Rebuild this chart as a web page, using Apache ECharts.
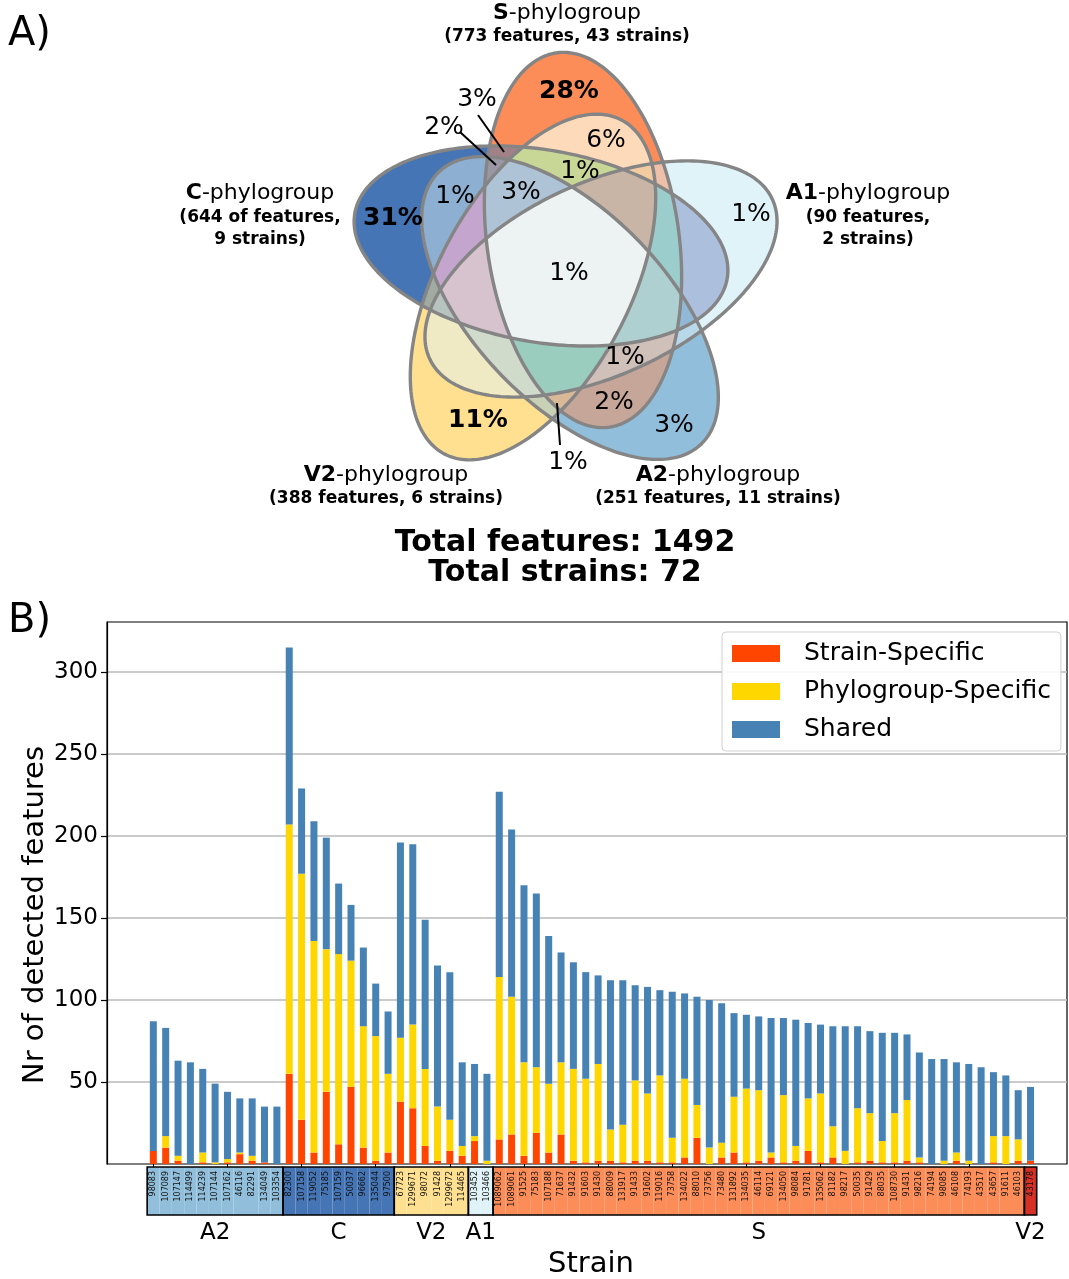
<!DOCTYPE html>
<html><head><meta charset="utf-8">
<script src="https://cdn.jsdelivr.net/npm/echarts@6/dist/echarts.min.js"></script>
<style>html,body{margin:0;padding:0;background:#fff}#c{width:1069px;height:1279px}</style>
</head><body><div id="c"></div>
<script>
// ---------------- DATA ----------------
const strains = ['98083','107089','107147','114499','114239','107144','107162','46116','82291','134049','103354',
 '82300','107158','119052','75185','107159','50037','96662','135044','97500',
 '67723','1299671','98072','91428','1299672','114465',
 '103452','103466',
 '1089062','1089061','91525','75183','107188','71637','91432','91603','91430','88009','131917','91433','91602','119016','73758','134022','88010','73756','73480','131892','134035','46114','69121','134050','98084','91781','135062','81182','98217','50035','91429','88035','108730','91431','98216','74194','98085','46108','74193','43517','43657','91611','46103',
 '43178'];
const groupNames = ['A2','C','V2','A1','S','V2'];
const groupSizes = [11,9,6,2,43,1];
const strainSpecific = [8,10,2,0,1,0,1,6,2,1,0,
 55,27,7,44,12,47,10,2,7,
 38,34,11,2,8,5,
 14,0,
 15,18,5,19,7,18,2,1,2,2,1,2,2,1,1,4,16,0,4,7,1,2,4,1,2,8,1,4,0,1,2,1,1,2,1,0,0,2,0,0,1,0,2,
 2];
const phylogroupSpecific = [0,7,3,0,6,1,2,1,3,0,0,
 152,150,129,87,116,77,74,76,48,
 39,51,47,33,19,6,
 3,2,
 99,84,57,40,42,44,56,51,59,19,23,49,41,53,15,48,20,10,9,34,45,43,3,41,9,32,42,19,8,33,29,13,30,37,3,0,2,5,2,0,16,17,13,
 0];
const shared = [79,66,58,62,51,48,41,33,35,34,35,
 108,52,73,68,43,34,48,32,38,
 119,110,91,86,90,51,
 44,53,
 113,102,108,106,90,67,65,65,54,91,88,58,65,52,89,52,66,90,85,51,45,45,82,47,77,46,42,61,76,50,50,66,49,40,64,64,62,55,59,59,39,37,30,
 45];
const seriesNames = ['Strain-Specific','Phylogroup-Specific','Shared'];
const yTicks = [50,100,150,200,250,300];

const vennSets = ['C','S','A1','A2','V2'];
const vennFeatures = [644,773,90,251,388];
const vennStrains = [9,43,2,11,6];
const vennPercents = ['31%','28%','1%','3%','11%','6%','1%','3%','1%','1%','1%','2%','1%','3%','2%'];
const totalFeatures = 1492;
const totalStrains = 72;

// ---------------- STYLE / LAYOUT ----------------
const FONT = 'DejaVu Sans';
const barColors = ['#FF4500','#FFD700','#4682B4'];
const groupColors = ['#91bfdb','#4575b4','#fee090','#e0f3f8','#fc8d59','#d73027'];
const setColors = {C:'#4575b4', S:'#fc8d59', A1:'#e0f3f8', A2:'#91bfdb', V2:'#fee090'};
const ellipseLayout = {
  C:{cx:541,cy:246,ang:170}, S:{cx:583,cy:240,ang:98}, A1:{cx:601,cy:279,ang:25},
  A2:{cx:570,cy:308,ang:134}, V2:{cx:533,cy:287,ang:62}
};
const EA = 189, EB = 96;
// percent label positions (same order as vennPercents)
const pctPos = [[393,218,1],[569,91,1],[751,214,0],[674,425,0],[478,420,1],[606,140,0],[580,171,0],[521,192,0],[455,196,0],[569,273,0],[625,357,0],[614,402,0],[568,462,0],[477,99,0],[444,127,0]];
const regionOverride = {18:[253,218,185],9:[140,175,210],19:[200,215,150],27:[175,195,215],31:[237,243,243],
  25:[195,165,205],29:[215,195,205],30:[155,205,190],7:[155,205,205],15:[175,208,208],5:[172,192,222]};

// ---------------- VENN GEOMETRY ----------------
function hexRgb(h){return [parseInt(h.substr(1,2),16),parseInt(h.substr(3,2),16),parseInt(h.substr(5,2),16)];}
function ellPoly(e,n){
  const th=e.ang*Math.PI/180, ux=Math.cos(th), uy=-Math.sin(th), nx=Math.sin(th), ny=Math.cos(th);
  const pts=[];
  for(let k=0;k<n;k++){const t=2*Math.PI*k/n; const ca=Math.cos(t)*EA, sb=Math.sin(t)*EB;
    pts.push([e.cx+ca*ux+sb*nx, e.cy+ca*uy+sb*ny]);}
  return pts;
}
function area(p){let s=0;for(let i=0;i<p.length;i++){const a=p[i],b=p[(i+1)%p.length];s+=a[0]*b[1]-b[0]*a[1];}return s/2;}
function clip(subject, cp){
  const sg = area(cp)>0?1:-1;
  let out = subject;
  for(let i=0;i<cp.length;i++){
    if(!out.length) break;
    const a=cp[i], b=cp[(i+1)%cp.length];
    const inp=out; out=[];
    const inside=p=>sg*((b[0]-a[0])*(p[1]-a[1])-(b[1]-a[1])*(p[0]-a[0]))>=0;
    const inter=(p,q)=>{const A1=q[1]-p[1],B1=p[0]-q[0],C1=A1*p[0]+B1*p[1];
      const A2=b[1]-a[1],B2=a[0]-b[0],C2=A2*a[0]+B2*a[1];const d=A1*B2-A2*B1;
      return [(B2*C1-B1*C2)/d,(A1*C2-A2*C1)/d];};
    for(let j=0;j<inp.length;j++){const P=inp[j],Q=inp[(j+1)%inp.length];const pi=inside(P),qi=inside(Q);
      if(qi){if(!pi)out.push(inter(P,Q));out.push(Q);}else if(pi)out.push(inter(P,Q));}
  }
  return out;
}
const polys = vennSets.map(s=>ellPoly(ellipseLayout[s],240));
const graphics = [];
const masks=[];for(let m=1;m<32;m++)masks.push(m);
const pc=m=>{let c=0;while(m){c+=m&1;m>>=1;}return c;};
masks.sort((a,b)=>pc(a)-pc(b));
let zc=1;
masks.forEach(m=>{
  const mem=[];for(let i=0;i<5;i++)if(m&(1<<i))mem.push(i);
  let p=polys[mem[0]];
  for(let k=1;k<mem.length;k++)p=clip(p,polys[mem[k]]);
  if(p.length<3)return;
  let col;
  if(regionOverride[m])col=regionOverride[m];
  else{col=[0,0,0];mem.forEach(i=>{const c=hexRgb(setColors[vennSets[i]]);col[0]+=c[0];col[1]+=c[1];col[2]+=c[2];});
    col=col.map(v=>Math.round(v/mem.length));}
  graphics.push({type:'polygon',silent:true,z:zc++,shape:{points:p},style:{fill:'rgb('+col.join(',')+')',stroke:'rgb('+col.join(',')+')',lineWidth:0.5}});
});
polys.forEach(p=>graphics.push({type:'polygon',silent:true,z:100,shape:{points:p},style:{fill:null,stroke:'#858585',lineWidth:3.4}}));

function txt(text,x,y,size,weight,opts){
  opts=opts||{};
  return Object.assign({type:'text',silent:true,z:200,x:x,y:y,style:{text:text,fontSize:size,fontWeight:weight||'normal',fontFamily:FONT,fill:'#000',
    align:opts.align||'center',textAlign:opts.align||'center',verticalAlign:'middle',textVerticalAlign:'middle'}},opts.extra||{});
}
function richTxt(bold,rest,x,y,size){
  return {type:'text',silent:true,z:200,x:x,y:y,style:{text:'{b|'+bold+'}{n|'+rest+'}',fontFamily:FONT,fontSize:size,fill:'#000',
    align:'center',textAlign:'center',verticalAlign:'middle',textVerticalAlign:'middle',
    rich:{b:{fontWeight:'bold',fontSize:size,fontFamily:FONT,fill:'#000'},n:{fontWeight:'normal',fontSize:size,fontFamily:FONT,fill:'#000'}}}};
}
vennPercents.forEach((t,i)=>{const p=pctPos[i];graphics.push(txt(t,p[0],p[1],25,p[2]?'bold':'normal'));});
// pointer lines
[[478,115,504,152],[460,132,496,165],[560,445,557,403]].forEach(l=>graphics.push({type:'line',silent:true,z:150,shape:{x1:l[0],y1:l[1],x2:l[2],y2:l[3]},style:{stroke:'#000',lineWidth:2}}));
// set labels
const setLabelPos = {S:[567,13,567,37,null], C:[260,193,260,218,260,240], A1:[868,193,868,218,868,240], V2:[386,475,386,499,null], A2:[718,475,718,499,null]};
vennSets.forEach((s,i)=>{
  const L=setLabelPos[s];
  graphics.push(richTxt(s,'-phylogroup',L[0],L[1],22));
  if(s==='C'){graphics.push(txt('('+vennFeatures[i]+' of features,',L[2],L[3],17,'bold'));graphics.push(txt(vennStrains[i]+' strains)',L[4],L[5],17,'bold'));}
  else if(s==='A1'){graphics.push(txt('('+vennFeatures[i]+' features,',L[2],L[3],17,'bold'));graphics.push(txt(vennStrains[i]+' strains)',L[4],L[5],17,'bold'));}
  else graphics.push(txt('('+vennFeatures[i]+' features, '+vennStrains[i]+' strains)',L[2],L[3],17,'bold'));
});
graphics.push(txt('Total features: '+totalFeatures,565,543,30,'bold'));
graphics.push(txt('Total strains: '+totalStrains,565,573,30,'bold'));
graphics.push(txt('A)',8,35,40,'normal',{align:'left'}));
graphics.push(txt('B)',8,622,40,'normal',{align:'left'}));
graphics.push(txt('Nr of detected features',35,915,29,'normal',{extra:{rotation:Math.PI/2}}));
graphics.push(txt('Strain',591,1264,29,'normal'));

// ---------------- BAR CHART ----------------
const strainGroup=[];groupSizes.forEach((n,g)=>{for(let k=0;k<n;k++)strainGroup.push(g);});
const groupRanges=[];{let s=0;groupSizes.forEach(n=>{groupRanges.push([s,0,s+n-1]);s+=n;});}
const YMAX = 330.5;
const BL = 147.15, BW = 72*12.355;

const chart = echarts.init(document.getElementById('c'),null,{renderer:'canvas'});
chart.setOption({
  animation:false,
  textStyle:{fontFamily:FONT},
  grid:[
    {left:107,top:622,width:960,height:542,show:true,borderColor:'#000',borderWidth:1.2,backgroundColor:'transparent',outerBoundsMode:'none'},
    {left:BL,top:622,width:BW,height:542,outerBoundsMode:'none'},
    {left:BL,top:1167,width:BW,height:48,outerBoundsMode:'none'}
  ],
  xAxis:[
    {gridIndex:0,type:'value',min:0,max:1,show:false},
    {gridIndex:1,type:'category',data:strains,axisLine:{show:false},axisTick:{show:true,alignWithLabel:true,length:4,lineStyle:{color:'#000',width:1}},axisLabel:{show:false},splitLine:{show:false}},
    {gridIndex:2,type:'category',data:strains,show:false}
  ],
  yAxis:[
    {gridIndex:0,type:'value',min:0,max:YMAX,interval:50,
      axisLine:{show:true,lineStyle:{color:'#000',width:1.2}},
      axisTick:{show:true,length:6,lineStyle:{color:'#000',width:1.2},customValues:yTicks},
      axisLabel:{margin:9,fontSize:23,color:'#000',fontFamily:FONT,customValues:yTicks,formatter:v=>(yTicks.indexOf(v)>=0?String(v):'')},
      splitLine:{show:true,lineStyle:{color:'#b8b8b8',width:1.5}}},
    {gridIndex:1,type:'value',min:0,max:YMAX,show:false},
    {gridIndex:2,type:'value',min:0,max:1,show:false}
  ],
  legend:{show:true,orient:'vertical',left:722,top:632,itemWidth:48,itemHeight:17,itemGap:13,
    padding:[9,10,9,10],borderColor:'#d0d0d0',borderWidth:1,borderRadius:4,backgroundColor:'rgba(255,255,255,0.9)',
    icon:'rect',data:seriesNames,textStyle:{fontSize:25,color:'#000',fontFamily:FONT,padding:[0,0,0,19]}},
  graphic:graphics,
  series:[
    {name:seriesNames[0],type:'bar',stack:'t',xAxisIndex:1,yAxisIndex:1,barWidth:7,data:strainSpecific,itemStyle:{color:barColors[0]}},
    {name:seriesNames[1],type:'bar',stack:'t',xAxisIndex:1,yAxisIndex:1,barWidth:7,data:phylogroupSpecific,itemStyle:{color:barColors[1]}},
    {name:seriesNames[2],type:'bar',stack:'t',xAxisIndex:1,yAxisIndex:1,barWidth:7,data:shared,itemStyle:{color:barColors[2]}},
    {type:'custom',xAxisIndex:2,yAxisIndex:2,clip:false,silent:true,
      data:strains.map((s,i)=>[i,0]),encode:{x:0,y:1},
      renderItem:function(params,api){
        const i=api.value(0);const p0=api.coord([i,0]);const p1=api.coord([i,1]);const bw=api.size([1,0])[0];
        const g=strainGroup[params.dataIndex];
        return {type:'group',children:[
          {type:'rect',shape:{x:p0[0]-bw/2,y:p1[1],width:bw,height:p0[1]-p1[1]},style:{fill:groupColors[g]}},
          {type:'text',x:p0[0],y:p1[1]+4,rotation:Math.PI/2,style:{text:strains[params.dataIndex],fontSize:8,fontFamily:FONT,fill:'#111',align:'right',verticalAlign:'middle'}}
        ]};
      }},
    {type:'custom',xAxisIndex:2,yAxisIndex:2,clip:false,silent:true,z:5,
      data:groupRanges,encode:{x:0,y:1},
      renderItem:function(params,api){
        const s=api.value(0), e=api.value(2);const bw=api.size([1,0])[0];
        const a=api.coord([s,0]), b=api.coord([e,1]);
        const x0=a[0]-bw/2, x1=b[0]+bw/2;
        return {type:'group',children:[
          {type:'rect',shape:{x:x0,y:b[1],width:x1-x0,height:a[1]-b[1]},style:{fill:null,stroke:'#000',lineWidth:1.6}},
          {type:'text',x:(x0+x1)/2,y:a[1]+18,style:{text:groupNames[params.dataIndex],fontSize:23,fontFamily:FONT,fill:'#000',align:'center',verticalAlign:'middle'}}
        ]};
      }}
  ]
});
</script></body></html>
